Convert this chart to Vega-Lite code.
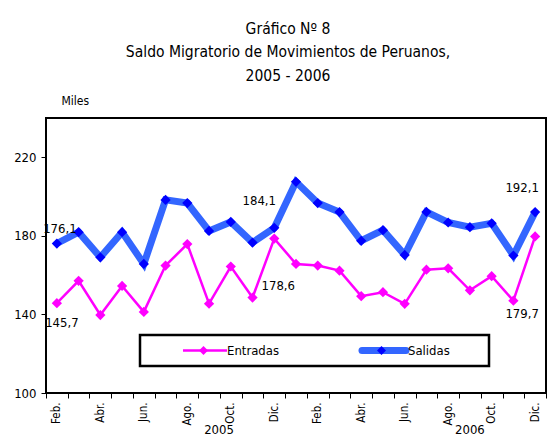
{
  "$schema": "https://vega.github.io/schema/vega-lite/v6.json",
  "width": 500,
  "height": 275,
  "autosize": {"type": "none"},
  "padding": {"left": 46, "top": 118, "right": 11, "bottom": 46},
  "background": "white",
  "config": {
    "font": "DejaVu Sans Condensed, DejaVu Sans, sans-serif",
    "view": {"stroke": "black", "strokeWidth": 2},
    "locale": {"number": {"decimal": ",", "thousands": ".", "grouping": [3], "currency": ["", ""]}},
    "axis": {"labelColor": "black", "tickColor": "black", "domain": false, "grid": false},
    "legend": {"strokeWidth": 2.5}
  },
  "title": {
    "text": ["Gráfico Nº 8", "Saldo Migratorio de Movimientos de Peruanos,", "2005 - 2006"],
    "fontSize": 15.5,
    "fontWeight": "normal",
    "lineHeight": 23.5,
    "anchor": "middle",
    "dx": -8,
    "offset": 10,
    "color": "black"
  },
  "data": {
    "values": [
      {"mes": "Feb. 2005", "serie": "Salidas", "valor": 176.1},
      {"mes": "Mar. 2005", "serie": "Salidas", "valor": 181.9},
      {"mes": "Abr. 2005", "serie": "Salidas", "valor": 169.1},
      {"mes": "May. 2005", "serie": "Salidas", "valor": 181.9},
      {"mes": "Jun. 2005", "serie": "Salidas", "valor": 165.7},
      {"mes": "Jul. 2005", "serie": "Salidas", "valor": 198.3},
      {"mes": "Ago. 2005", "serie": "Salidas", "valor": 196.7},
      {"mes": "Set. 2005", "serie": "Salidas", "valor": 182.5},
      {"mes": "Oct. 2005", "serie": "Salidas", "valor": 187.1},
      {"mes": "Nov. 2005", "serie": "Salidas", "valor": 176.6},
      {"mes": "Dic. 2005", "serie": "Salidas", "valor": 184.1},
      {"mes": "Ene. 2006", "serie": "Salidas", "valor": 207.5},
      {"mes": "Feb. 2006", "serie": "Salidas", "valor": 196.7},
      {"mes": "Mar. 2006", "serie": "Salidas", "valor": 192.1},
      {"mes": "Abr. 2006", "serie": "Salidas", "valor": 177.5},
      {"mes": "May. 2006", "serie": "Salidas", "valor": 182.9},
      {"mes": "Jun. 2006", "serie": "Salidas", "valor": 170.3},
      {"mes": "Jul. 2006", "serie": "Salidas", "valor": 192.2},
      {"mes": "Ago. 2006", "serie": "Salidas", "valor": 186.8},
      {"mes": "Set. 2006", "serie": "Salidas", "valor": 184.4},
      {"mes": "Oct. 2006", "serie": "Salidas", "valor": 186.4},
      {"mes": "Nov. 2006", "serie": "Salidas", "valor": 170.0},
      {"mes": "Dic. 2006", "serie": "Salidas", "valor": 192.1},
      {"mes": "Feb. 2005", "serie": "Entradas", "valor": 145.7},
      {"mes": "Mar. 2005", "serie": "Entradas", "valor": 157.1},
      {"mes": "Abr. 2005", "serie": "Entradas", "valor": 139.7},
      {"mes": "May. 2005", "serie": "Entradas", "valor": 154.5},
      {"mes": "Jun. 2005", "serie": "Entradas", "valor": 141.3},
      {"mes": "Jul. 2005", "serie": "Entradas", "valor": 164.9},
      {"mes": "Ago. 2005", "serie": "Entradas", "valor": 175.8},
      {"mes": "Set. 2005", "serie": "Entradas", "valor": 145.5},
      {"mes": "Oct. 2005", "serie": "Entradas", "valor": 164.4},
      {"mes": "Nov. 2005", "serie": "Entradas", "valor": 148.6},
      {"mes": "Dic. 2005", "serie": "Entradas", "valor": 178.6},
      {"mes": "Ene. 2006", "serie": "Entradas", "valor": 165.7},
      {"mes": "Feb. 2006", "serie": "Entradas", "valor": 164.9},
      {"mes": "Mar. 2006", "serie": "Entradas", "valor": 162.3},
      {"mes": "Abr. 2006", "serie": "Entradas", "valor": 149.3},
      {"mes": "May. 2006", "serie": "Entradas", "valor": 151.3},
      {"mes": "Jun. 2006", "serie": "Entradas", "valor": 145.4},
      {"mes": "Jul. 2006", "serie": "Entradas", "valor": 162.8},
      {"mes": "Ago. 2006", "serie": "Entradas", "valor": 163.5},
      {"mes": "Set. 2006", "serie": "Entradas", "valor": 152.3},
      {"mes": "Oct. 2006", "serie": "Entradas", "valor": 159.5},
      {"mes": "Nov. 2006", "serie": "Entradas", "valor": 147.0},
      {"mes": "Dic. 2006", "serie": "Entradas", "valor": 179.7}
    ]
  },
  "encoding": {
    "x": {
      "field": "mes",
      "type": "nominal",
      "sort": null,
      "bandPosition": 0.5,
      "scale": {"type": "band", "paddingInner": 0, "paddingOuter": 0},
      "axis": {
        "title": null,
        "labelAngle": 270,
        "labelExpr": "indexof(['Feb.','Abr.','Jun.','Ago.','Oct.','Dic.'], split(datum.value, ' ')[0]) >= 0 ? split(datum.value, ' ')[0] : ''",
        "tickBand": "extent",
        "tickSize": 5,
        "labelFontSize": 11.5,
        "labelPadding": 4,
        "labelOverlap": false
      }
    },
    "y": {
      "field": "valor",
      "type": "quantitative",
      "scale": {"domain": [100, 240], "nice": false},
      "axis": {
        "values": [100, 140, 180, 220],
        "title": "Miles",
        "titleAngle": 0,
        "titleAlign": "left",
        "titleBaseline": "middle",
        "titleX": 15,
        "titleY": -18,
        "titleFontWeight": "normal",
        "titleFontSize": 12,
        "titleColor": "black",
        "labelFontSize": 13,
        "tickSize": 5,
        "labelPadding": 5
      }
    }
  },
  "layer": [
    {
      "mark": {"type": "line"},
      "encoding": {
        "color": {
          "field": "serie",
          "type": "nominal",
          "scale": {"domain": ["Entradas", "Salidas"], "range": ["#FF00FF", "#3366FF"]},
          "legend": {
            "orient": "none",
            "legendX": 94,
            "legendY": 217,
            "direction": "horizontal",
            "title": null,
            "symbolType": "M-1,0L1,0",
            "symbolSize": 1936,
            "padding": 5,
            "symbolOffset": 36.5,
            "labelOffset": -1.5,
            "columnPadding": 42,
            "labelFontSize": 13,
            "labelColor": "black",
            "clipHeight": 21,
            "encode": {
              "symbols": {
                "update": {
                  "strokeWidth": {"signal": "datum.value == 'Salidas' ? 7 : 2.5"},
                  "strokeCap": {"signal": "datum.value == 'Salidas' ? 'round' : 'butt'"}
                }
              }
            }
          }
        },
        "strokeWidth": {
          "field": "serie",
          "type": "nominal",
          "scale": {"domain": ["Entradas", "Salidas"], "range": [2.5, 7]},
          "legend": null
        }
      }
    },
    {
      "mark": {"type": "point", "shape": "diamond", "filled": true, "size": 105, "opacity": 1},
      "encoding": {
        "fill": {
          "field": "serie",
          "type": "nominal",
          "scale": {"range": ["#FF00FF", "#0000FF"]},
          "legend": {
            "orient": "none",
            "legendX": 94,
            "legendY": 217,
            "direction": "horizontal",
            "title": null,
            "symbolType": "diamond",
            "symbolSize": 80,
            "symbolStrokeWidth": 0,
            "strokeColor": "black",
            "padding": 5,
            "symbolOffset": 54,
            "labelOffset": 97.3,
            "columnPadding": 17,
            "labelFontSize": 0.1,
            "labelOpacity": 0,
            "labelExpr": "''",
            "clipHeight": 21
          }
        }
      }
    },
    {
      "transform": [{"filter": "datum.mes == 'Feb. 2005' && datum.serie == 'Salidas'"}],
      "mark": {"type": "text", "fontSize": 13, "color": "black", "dx": 3, "dy": -15},
      "encoding": {"text": {"field": "valor", "type": "quantitative", "format": ".1f"}}
    },
    {
      "transform": [{"filter": "datum.mes == 'Feb. 2005' && datum.serie == 'Entradas'"}],
      "mark": {"type": "text", "fontSize": 13, "color": "black", "dx": 5, "dy": 20},
      "encoding": {"text": {"field": "valor", "type": "quantitative", "format": ".1f"}}
    },
    {
      "transform": [{"filter": "datum.mes == 'Dic. 2005' && datum.serie == 'Salidas'"}],
      "mark": {"type": "text", "fontSize": 13, "color": "black", "dx": -15, "dy": -27},
      "encoding": {"text": {"field": "valor", "type": "quantitative", "format": ".1f"}}
    },
    {
      "transform": [{"filter": "datum.mes == 'Dic. 2005' && datum.serie == 'Entradas'"}],
      "mark": {"type": "text", "fontSize": 13, "color": "black", "dx": 4, "dy": 47},
      "encoding": {"text": {"field": "valor", "type": "quantitative", "format": ".1f"}}
    },
    {
      "transform": [{"filter": "datum.mes == 'Dic. 2006' && datum.serie == 'Salidas'"}],
      "mark": {"type": "text", "fontSize": 13, "color": "black", "dx": -13, "dy": -24},
      "encoding": {"text": {"field": "valor", "type": "quantitative", "format": ".1f"}}
    },
    {
      "transform": [{"filter": "datum.mes == 'Dic. 2006' && datum.serie == 'Entradas'"}],
      "mark": {"type": "text", "fontSize": 13, "color": "black", "dx": -13, "dy": 78},
      "encoding": {"text": {"field": "valor", "type": "quantitative", "format": ".1f"}}
    },
    {
      "transform": [{"filter": "datum.mes == 'Set. 2005' && datum.serie == 'Salidas'"}],
      "mark": {"type": "text", "fontSize": 13, "color": "black", "dx": 10, "dy": 37, "clip": false},
      "encoding": {
        "y": {"datum": 100, "type": "quantitative"},
        "text": {"value": "2005"}
      }
    },
    {
      "transform": [{"filter": "datum.mes == 'Set. 2006' && datum.serie == 'Salidas'"}],
      "mark": {"type": "text", "fontSize": 13, "color": "black", "dx": 0, "dy": 37, "clip": false},
      "encoding": {
        "y": {"datum": 100, "type": "quantitative"},
        "text": {"value": "2006"}
      }
    }
  ]
}
